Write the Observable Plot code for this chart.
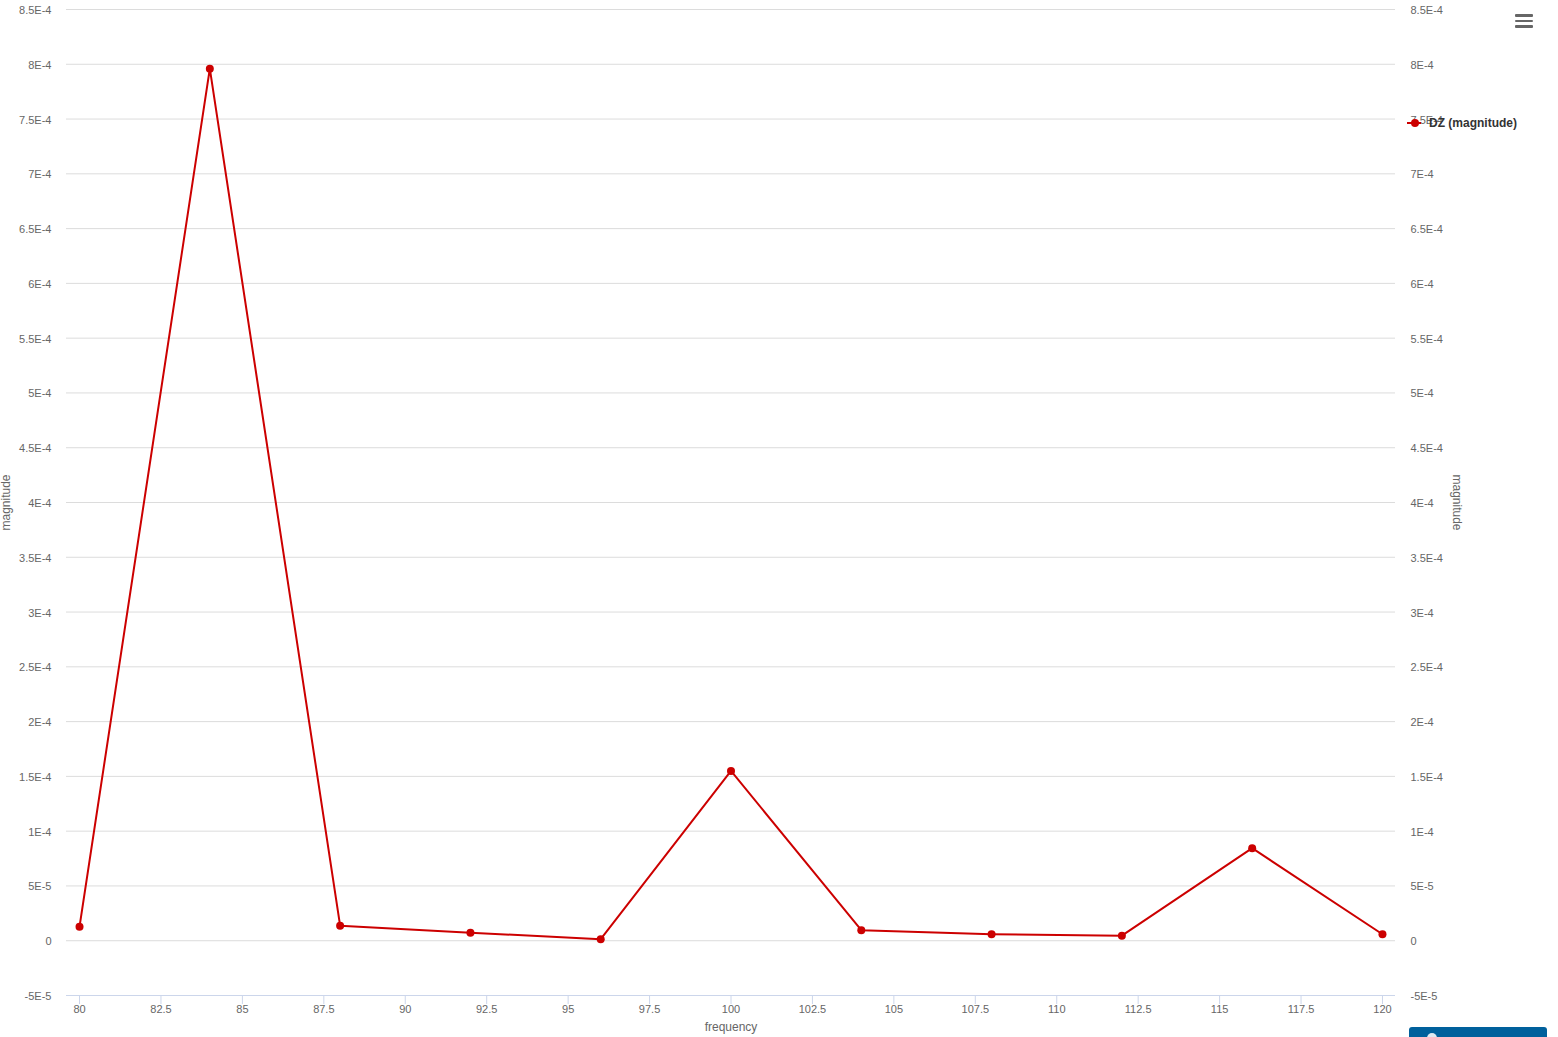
<!DOCTYPE html>
<html>
<head>
<meta charset="utf-8">
<script src="https://cdn.jsdelivr.net/npm/d3@7"></script>
<script src="https://cdn.jsdelivr.net/npm/@observablehq/plot@0.6"></script>
<style>
  html, body { margin: 0; padding: 0; background: #ffffff; }
  #wrap { position: relative; width: 1558px; height: 1037px; overflow: hidden; font-family: "Liberation Sans", Arial, sans-serif; }
  #legend { position: absolute; left: 1406px; top: 114px; height: 18px; display: flex; align-items: center; }
  #legend span { font-weight: bold; font-size: 12px; color: #333333; margin-left: 7px; }
  #menu { position: absolute; left: 1515px; top: 14px; width: 18px; }
  #menu div { height: 2.5px; background: #666666; margin-bottom: 3px; border-radius: 1px; }
  #btn { position: absolute; left: 1409px; top: 1027px; width: 138px; height: 20px; background: #00609c; border-radius: 3px; }
  #btn i { position: absolute; left: 18px; top: 6px; width: 10px; height: 10px; border-radius: 50%; background: #dfe9f1; }
</style>
</head>
<body>
<div id="wrap"></div>
<script>
// ---- data ----
const frequency = [80, 84, 88, 92, 96, 100, 104, 108, 112, 116, 120];
const magnitude = [1.28e-5, 7.96e-4, 1.37e-5, 7.3e-6, 1.4e-6, 1.55e-4, 9.6e-6, 5.9e-6, 4.6e-6, 8.45e-5, 5.9e-6];
const seriesName = "DZ (magnitude)";
const xTicks = [80, 82.5, 85, 87.5, 90, 92.5, 95, 97.5, 100, 102.5, 105, 107.5, 110, 112.5, 115, 117.5, 120];
const xTickLabels = ["80", "82.5", "85", "87.5", "90", "92.5", "95", "97.5", "100", "102.5", "105", "107.5", "110", "112.5", "115", "117.5", "120"];
const yTicks = [-5e-5, 0, 5e-5, 1e-4, 1.5e-4, 2e-4, 2.5e-4, 3e-4, 3.5e-4, 4e-4, 4.5e-4, 5e-4, 5.5e-4, 6e-4, 6.5e-4, 7e-4, 7.5e-4, 8e-4, 8.5e-4];
const yTickLabels = ["-5E-5", "0", "5E-5", "1E-4", "1.5E-4", "2E-4", "2.5E-4", "3E-4", "3.5E-4", "4E-4", "4.5E-4", "5E-4", "5.5E-4", "6E-4", "6.5E-4", "7E-4", "7.5E-4", "8E-4", "8.5E-4"];
const xTitle = "frequency";
const yTitle = "magnitude";

const rows = frequency.map((f, i) => ({frequency: f, magnitude: magnitude[i]}));
const yFmt = v => yTickLabels[yTicks.findIndex(t => Math.abs(t - v) < 1e-12)];
const xFmt = v => xTickLabels[xTicks.findIndex(t => Math.abs(t - v) < 1e-9)];
const red = "#cc0000";
const font = '"Liberation Sans", Arial, sans-serif';

const chart = Plot.plot({
  width: 1558,
  height: 1037,
  marginLeft: 66,
  marginRight: 163,
  marginTop: 9,
  marginBottom: 42,
  style: {fontFamily: font, fontSize: "11px", color: "#666666", background: "#ffffff"},
  x: {domain: [79.6, 120.4]},
  y: {domain: [-5e-5, 8.5e-4]},
  marks: [
    Plot.gridY(yTicks.filter(t => t > -5e-5), {stroke: "#dcdcdc", strokeOpacity: 1}),
    Plot.ruleY([-5e-5], {stroke: "#ccd6eb", strokeWidth: 1}),
    Plot.axisX({ticks: xTicks, tickFormat: xFmt, tickSize: 9, tickPadding: 1, stroke: "#ccd6eb", fill: "#666666", fontSize: 11, label: null}),
    Plot.axisY({anchor: "left", ticks: yTicks, tickFormat: yFmt, tickSize: 0, tickPadding: 15, fill: "#666666", fontSize: 11, dy: 1, label: null}),
    Plot.axisY({anchor: "right", ticks: yTicks, tickFormat: yFmt, tickSize: 0, tickPadding: 15, fill: "#666666", fontSize: 11, dy: 1, label: null}),
    Plot.text([xTitle], {text: d => d, frameAnchor: "bottom", lineAnchor: "middle", textAnchor: "middle", dy: 32, fontSize: 12, fill: "#666666"}),
    Plot.text([yTitle], {text: d => d, frameAnchor: "left", lineAnchor: "middle", textAnchor: "middle", dx: -60, rotate: -90, fontSize: 12, fill: "#666666"}),
    Plot.text([yTitle], {text: d => d, frameAnchor: "right", lineAnchor: "middle", textAnchor: "middle", dx: 61, rotate: 90, fontSize: 12, fill: "#666666"}),
    Plot.line(rows, {x: "frequency", y: "magnitude", stroke: red, strokeWidth: 2}),
    Plot.dot(rows, {x: "frequency", y: "magnitude", r: 4, fill: red, stroke: "none"})
  ]
});

const wrap = document.getElementById("wrap");
wrap.appendChild(chart);

// legend
const legend = document.createElement("div");
legend.id = "legend";
legend.innerHTML = `<svg width="16" height="10"><line x1="1" x2="15" y1="5" y2="5" stroke="${red}" stroke-width="2"/><circle cx="9" cy="5" r="4" fill="${red}"/></svg><span>${seriesName}</span>`;
wrap.appendChild(legend);

// menu icon
const menu = document.createElement("div");
menu.id = "menu";
menu.innerHTML = "<div></div><div></div><div></div>";
wrap.appendChild(menu);

// button
const btn = document.createElement("div");
btn.id = "btn";
btn.innerHTML = "<i></i>";
wrap.appendChild(btn);
</script>
</body>
</html>
